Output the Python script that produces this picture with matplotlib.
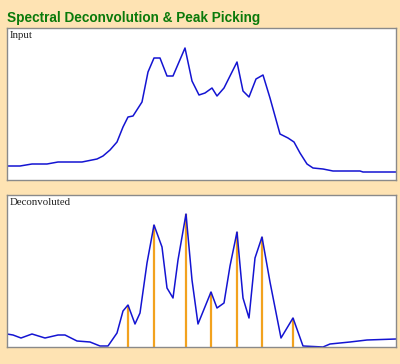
import numpy as np
import matplotlib.pyplot as plt

# input spectrum (channel, intensity)
input_ch = [0, 13, 25, 40, 51, 75, 90, 96, 103, 110, 116, 121, 126, 135, 141, 147,
            153, 160, 166, 178, 185, 192, 198, 205, 210, 217, 230, 236, 242, 249,
            256, 263, 273, 281, 287, 293, 300, 306, 316, 326, 353, 356, 389]
input_val = [14, 14, 16, 16, 18, 18, 21, 24, 30, 38, 53, 63, 64, 78, 108, 122,
             122, 104, 104, 132, 99, 85, 87, 92, 84, 92, 118, 89, 83, 101,
             105, 82, 46, 42, 38, 27, 16, 12, 11, 9, 9, 8, 8]

# deconvoluted spectrum
dec_ch = [0, 6, 14, 25, 38, 51, 58, 70, 83, 93, 101, 110, 116, 121, 128, 133,
          140, 147, 155, 160, 166, 171, 179, 185, 191, 204, 210, 217, 223, 230,
          236, 242, 248, 255, 263, 274, 286, 296, 316, 323, 343, 360, 389]
dec_val = [13, 12, 9, 13, 9, 12, 12, 6, 5, 1, 1, 14, 36, 42, 23, 34,
           84, 122, 100, 59, 49, 87, 133, 67, 23, 55, 39, 44, 81, 115,
           49, 29, 89, 110, 65, 9, 29, 1, 0, 3, 5, 7, 8]

# picked peaks
peak_ch = [121, 147, 179, 204, 230, 255, 286]
peak_val = [42, 122, 133, 55, 115, 110, 29]

bg = '#FEE3B3'
fig = plt.figure(figsize=(4.0, 3.64), dpi=100, facecolor=bg)
W, H = 400, 364

def panel(top, bottom, label):
    ax = fig.add_axes([7 / W, 1 - bottom / H, 389 / W, (bottom - top) / H])
    ax.set_facecolor('white')
    ax.set_xlim(0, 389)
    ax.set_ylim(0, bottom - top)
    ax.set_xticks([])
    ax.set_yticks([])
    for s in ax.spines.values():
        s.set_color('#8a8a8a')
        s.set_linewidth(1)
    ax.text(3 / 389, 1 - 3 / (bottom - top), label, transform=ax.transAxes,
            va='top', ha='left', family='Liberation Serif', fontsize=7.8,
            color='#222222')
    return ax

fig.text(7 / W, 1 - 22 / H, 'Spectral Deconvolution & Peak Picking',
         family='Liberation Sans', weight='bold', fontsize=9.8, color='#0A7A0A')

ax1 = panel(28, 180, 'Input')
ax1.plot(input_ch, input_val, color='#1414D2', linewidth=1.1)

ax2 = panel(195, 347, 'Deconvoluted')
ax2.vlines(peak_ch, 0, peak_val, color='#F2A21E', linewidth=1.6)
ax2.plot(dec_ch, dec_val, color='#1414D2', linewidth=1.1)

fig.savefig('out.png', dpi=100, facecolor=bg)
